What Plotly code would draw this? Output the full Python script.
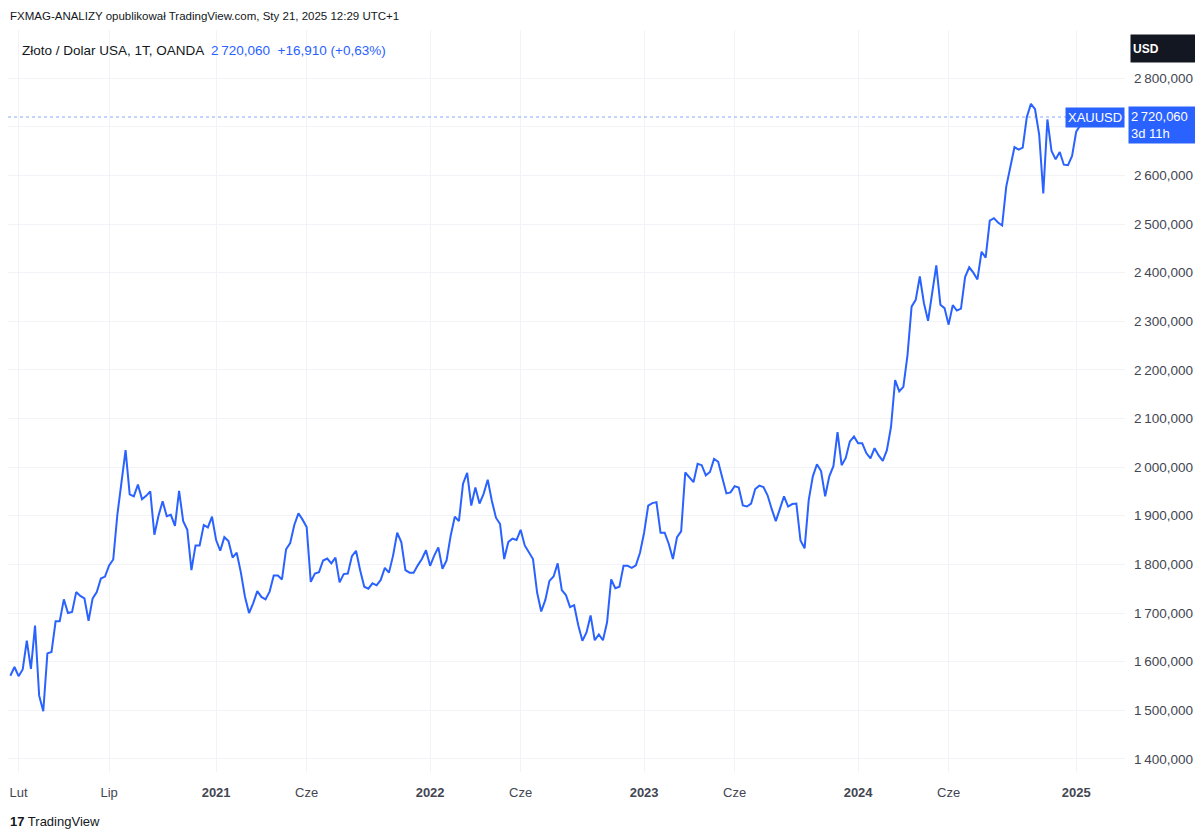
import pandas as pd
import plotly.graph_objects as go

# Weekly closes XAUUSD (OANDA), bars dated Monday, starting 2020-01-20
start_date = "2020-01-20"
prices = [
    # 2020
    1571, 1589, 1570, 1584, 1643, 1585, 1674, 1530, 1498, 1617, 1620, 1683, 1683,
    1728, 1700, 1702, 1743, 1735, 1730, 1684, 1730, 1743, 1771, 1775, 1798, 1810,
    1902, 1975, 2035, 1944, 1940, 1964, 1934, 1941, 1950, 1861, 1900, 1930, 1899,
    1902, 1879, 1951, 1889, 1871, 1788, 1839, 1839, 1881, 1876, 1898,
    # 2021
    1850, 1828, 1856, 1848, 1814, 1824, 1784, 1734, 1700, 1720, 1745, 1733, 1728,
    1744, 1777, 1777, 1769, 1831, 1844, 1881, 1905, 1892, 1877, 1764, 1781, 1784,
    1808, 1812, 1802, 1814, 1763, 1780, 1781, 1817, 1828, 1788, 1754, 1750, 1761,
    1757, 1768, 1793, 1783, 1818, 1865, 1846, 1788, 1783, 1783, 1798, 1811, 1829,
    # 2022
    1797, 1818, 1835, 1791, 1808, 1859, 1898, 1889, 1966, 1988, 1921, 1958, 1925,
    1945, 1974, 1931, 1896, 1883, 1811, 1846, 1853, 1850, 1871, 1839, 1826, 1811,
    1742, 1703, 1727, 1766, 1775, 1802, 1747, 1737, 1712, 1716, 1675, 1643, 1660,
    1695, 1644, 1656, 1644, 1681, 1769, 1751, 1754, 1797, 1797, 1793, 1798, 1824,
    # 2023
    1865, 1921, 1926, 1928, 1865, 1865, 1842, 1811, 1856, 1868, 1989, 1978, 1969,
    2007, 2004, 1983, 1990, 2017, 2011, 1978, 1946, 1948, 1961, 1958, 1921, 1919,
    1925, 1955, 1962, 1959, 1942, 1914, 1889, 1914, 1940, 1919, 1924, 1925, 1849,
    1833, 1932, 1981, 2006, 1992, 1940, 1981, 2002, 2072, 2004, 2019, 2053, 2063,
    # 2024
    2049, 2049, 2029, 2018, 2039, 2024, 2013, 2035, 2083, 2179, 2156, 2165, 2230,
    2330, 2344, 2392, 2337, 2301, 2360, 2415, 2334, 2327, 2293, 2333, 2322, 2326,
    2391, 2411, 2400, 2386, 2443, 2431, 2507, 2512, 2503, 2497, 2577, 2621, 2658,
    2653, 2657, 2720, 2747, 2736, 2684, 2563, 2715, 2650, 2633, 2648, 2622, 2621,
    2640,
    # 2025
    2690, 2703, 2720.06,
]
dates = pd.date_range(start=start_date, periods=len(prices), freq="7D")

x_tick_dates = ["2020-02-03", "2020-07-06", "2021-01-04", "2021-06-07", "2022-01-03",
                "2022-06-06", "2023-01-02", "2023-06-05", "2024-01-01", "2024-06-03",
                "2025-01-06"]
x_tick_labels = ["Lut", "Lip", "<b>2021</b>", "Cze", "<b>2022</b>", "Cze", "<b>2023</b>",
                 "Cze", "<b>2024</b>", "Cze", "<b>2025</b>"]

y_tick_vals = [1400, 1500, 1600, 1700, 1800, 1900, 2000, 2100, 2200, 2300, 2400, 2500,
               2600, 2700, 2800]
# 2700 label is hidden behind the last-price label in the reference
y_tick_labels = ["" if v == 2700 else f"{v//1000}\u2009{v%1000:03d},000" for v in y_tick_vals]

last_price = 2720.06
header = "FXMAG-ANALIZY opublikował TradingView.com, Sty 21, 2025 12:29 UTC+1"
title_main = "Złoto / Dolar USA, 1T, OANDA"
title_price = "2\u2009720,060"
title_change = "+16,910 (+0,63%)"

BLUE = "#2962FF"
FONT = "Liberation Sans, Arial, sans-serif"

fig = go.Figure()
fig.add_trace(go.Scatter(x=dates, y=prices, mode="lines",
                         line=dict(color=BLUE, width=2), hoverinfo="skip"))

# page body adds an 8px offset; figure is sized to fit the window from there
fig.update_layout(
    width=1195, height=822,
    margin=dict(l=0, r=78, t=22, b=58),
    paper_bgcolor="white", plot_bgcolor="white",
    showlegend=False,
    font=dict(family=FONT, size=12, color="#131722"),
    xaxis=dict(
        range=["2020-01-16", "2025-03-30"],
        tickvals=x_tick_dates, ticktext=x_tick_labels,
        showgrid=True, gridcolor="#f2f3f6", gridwidth=1,
        zeroline=False, showline=False, ticks="",
        ticklabelstandoff=11,
        tickfont=dict(size=13, color="#434651"),
    ),
    yaxis=dict(
        side="right", range=[1373, 2899],
        tickvals=y_tick_vals, ticktext=y_tick_labels,
        showgrid=True, gridcolor="#f2f3f6", gridwidth=1,
        zeroline=False, showline=False, ticks="",
        ticklabelstandoff=8,
        tickfont=dict(size=13.5, color="#434651"),
    ),
)

# dotted last-price line
fig.add_shape(type="line", xref="paper", x0=0, x1=1, yref="y", y0=last_price, y1=last_price,
              line=dict(color="rgba(41,98,255,0.55)", width=1, dash="dot"))

# header texts
fig.add_annotation(xref="paper", yref="paper", x=0, y=1.019, xanchor="left", yanchor="middle",
                   text=header, showarrow=False, font=dict(size=11.5, color="#131722"))
fig.add_annotation(xref="paper", yref="paper", x=0.0107, y=0.973, xanchor="left", yanchor="middle",
                   text=f"{title_main}  <span style='color:{BLUE}'>{title_price}  {title_change}</span>",
                   showarrow=False, font=dict(size=13.5, color="#131722"))

# USD box
fig.add_annotation(xref="paper", yref="paper", x=1.0045, y=0.975, xanchor="left", yanchor="middle",
                   text="<b>USD</b>", showarrow=False, align="left", width=64, height=23,
                   bgcolor="#131722", borderpad=2, font=dict(size=12, color="white"))

# XAUUSD label
fig.add_annotation(xref="paper", yref="y", x=1.0, y=last_price, xanchor="right", yanchor="middle",
                   text="XAUUSD", showarrow=False, bgcolor=BLUE, borderpad=2,
                   font=dict(size=13, color="white"))
# price label
fig.add_annotation(xref="paper", yref="y", x=1.0027, y=last_price, xanchor="left", yanchor="top",
                   yshift=11, text="2\u2009720,060<br>3d 11h", showarrow=False, align="left",
                   width=70, bgcolor=BLUE, borderpad=2,
                   font=dict(size=13, color="white"))

# TradingView logo text
fig.add_annotation(xref="paper", yref="paper", x=0.0, y=-0.067, xanchor="left", yanchor="middle",
                   text="<b>17</b> TradingView", showarrow=False,
                   font=dict(size=13, color="#131722"))

fig.write_html("out.html")
